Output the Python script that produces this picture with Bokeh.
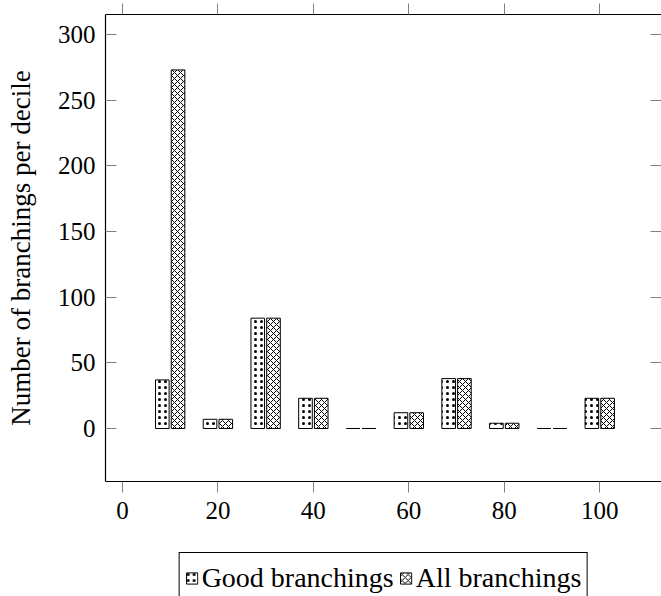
from bokeh.plotting import figure
from bokeh.models import Range1d, FixedTicker, LinearAxis, Legend, LegendItem, ColumnDataSource
from bokeh.layouts import column
from bokeh.transform import dodge
from bokeh.embed import file_html
from bokeh.resources import INLINE

deciles = [10, 20, 30, 40, 50, 60, 70, 80, 90, 100]
good_branchings = [37, 7, 84, 23, 0, 12, 38, 4, 0, 23]
all_branchings = [273, 7, 84, 23, 0, 12, 38, 4, 0, 23]
x_ticks = [0, 20, 40, 60, 80, 100]
y_ticks = [0, 50, 100, 150, 200, 250, 300]

FONT = "Liberation Serif"
TICK_FS = "25px"
LABEL_FS = "27px"
LEGEND_FS = "28px"

GOOD_STYLE = dict(fill_color="white", line_color="black", line_width=1,
                  hatch_pattern="dot", hatch_color="black", hatch_scale=6, hatch_weight=1.5)
ALL_STYLE = dict(fill_color="white", line_color="black", line_width=1,
                 hatch_pattern="diagonal_cross", hatch_color="black", hatch_scale=6, hatch_weight=1)

src = ColumnDataSource(dict(x=deciles, good=good_branchings, allb=all_branchings))

p = figure(width=661, height=544,
           x_range=Range1d(-3.55, 112.94), y_range=Range1d(-40.36, 315.2),
           output_backend="svg", toolbar_location=None,
           x_axis_location=None, y_axis_location=None,
           min_border_left=103, min_border_right=0, min_border_top=14, min_border_bottom=63)
p.grid.visible = False
p.outline_line_color = None
p.background_fill_color = "white"
p.border_fill_color = "white"


def style_axis(ax, tin, tout, labels=True, line=True):
    ax.axis_line_color = "black" if line else None
    ax.axis_line_width = 1.2
    ax.major_tick_in = tin
    ax.major_tick_out = tout
    ax.major_tick_line_color = "#808080"
    ax.major_tick_line_width = 1
    ax.minor_tick_line_color = None
    if labels:
        ax.major_label_text_font = FONT
        ax.major_label_text_font_size = TICK_FS
        ax.major_label_text_color = "black"
    else:
        ax.major_label_text_font_size = "0px"
        ax.major_label_text_color = None
        ax.major_label_standoff = 0


left = LinearAxis(ticker=FixedTicker(ticks=y_ticks), axis_label="Number of branchings per decile")
style_axis(left, 11, 0)
left.major_label_standoff = 10
left.axis_label_text_font = FONT
left.axis_label_text_font_size = LABEL_FS
left.axis_label_text_font_style = "normal"
left.axis_label_text_color = "black"
left.axis_label_standoff = 19
p.add_layout(left, "left")

right = LinearAxis(ticker=FixedTicker(ticks=y_ticks))
style_axis(right, 11, 0, labels=False, line=False)
p.add_layout(right, "right")

below = LinearAxis(ticker=FixedTicker(ticks=x_ticks))
style_axis(below, 0, 11)
below.major_label_standoff = 9
p.add_layout(below, "below")

above = LinearAxis(ticker=FixedTicker(ticks=x_ticks))
style_axis(above, 0, 11, labels=False)
p.add_layout(above, "above")

p.vbar(x=dodge("x", -1.65, range=p.x_range), top="good", bottom=0, width=2.85, source=src, **GOOD_STYLE)
p.vbar(x=dodge("x", 1.65, range=p.x_range), top="allb", bottom=0, width=2.85, source=src, **ALL_STYLE)

# legend strip below the chart (its renderers sit outside the strip's visible range)
q = figure(width=661, height=52, x_range=Range1d(0, 1), y_range=Range1d(0, 1),
           output_backend="svg", toolbar_location=None,
           x_axis_location=None, y_axis_location=None,
           min_border_left=105, min_border_right=0, min_border_top=0, min_border_bottom=0,
           outline_line_color=None)
q.grid.visible = False
lg_good = q.vbar(x=[-10], top=[0], width=1, **GOOD_STYLE)
lg_all = q.vbar(x=[-10], top=[0], width=1, **ALL_STYLE)

legend = Legend(items=[LegendItem(label="Good branchings", renderers=[lg_good]),
                       LegendItem(label="All branchings", renderers=[lg_all])],
                orientation="horizontal", location="top_center",
                border_line_color="black", border_line_width=1, border_line_alpha=1,
                background_fill_color="white", background_fill_alpha=1,
                label_text_font=FONT, label_text_font_size=LEGEND_FS, label_text_color="black",
                glyph_width=14, glyph_height=14, label_standoff=3, spacing=5,
                padding=5, label_height=40, margin=8)
q.add_layout(legend)

layout = column(p, q, spacing=0)
open("out.html", "w").write(file_html(layout, INLINE))
